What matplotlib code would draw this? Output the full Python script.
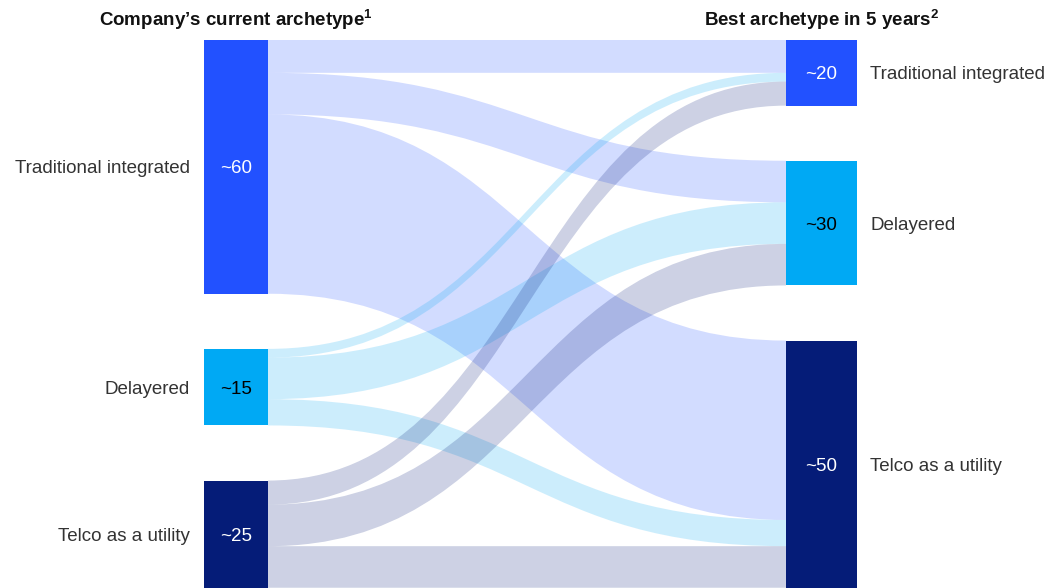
import numpy as np
import matplotlib
matplotlib.use("Agg")
import matplotlib.pyplot as plt
from matplotlib.path import Path
from matplotlib.patches import PathPatch, Rectangle

# archetypes, same order on both sides
archetypes = ["Traditional integrated", "Delayered", "Telco as a utility"]
left_value_labels = ["~60", "~15", "~25"]
right_value_labels = ["~20", "~30", "~50"]
left_title = "Company\u2019s current archetype"
right_title = "Best archetype in 5 years"
left_note, right_note = "1", "2"

# share of companies moving from current archetype (rows) to best archetype (cols)
flows = np.array([
    [7.5, 9.5, 41.0],
    [2.0, 9.5, 6.0],
    [5.5, 9.5, 9.5],
])

node_colors = ["#2251FF", "#00A9F4", "#051C78"]
value_text_colors = ["white", "black", "white"]

plt.rcParams["font.family"] = ["Liberation Sans", "DejaVu Sans"]
plt.rcParams["mathtext.fontset"] = "custom"
plt.rcParams["mathtext.bf"] = "Liberation Sans:bold"
plt.rcParams["mathtext.rm"] = "Liberation Sans"

W, H = 1055, 588
fig = plt.figure(figsize=(W / 100, H / 100), dpi=100)
ax = fig.add_axes([0, 0, 1, 1])
ax.axis("off")

gap = 12.6          # space between nodes, in value units
px = 4.375          # pixels per value unit
top_pad = 40 / px
ax.set_xlim(0, W)
ax.set_ylim((H - 40) / px, -top_pad)

lx0, lx1 = 204, 268   # left nodes
rx0, rx1 = 786, 857   # right nodes

left_tot = flows.sum(axis=1)
right_tot = flows.sum(axis=0)
left_y = np.concatenate([[0], np.cumsum(left_tot + gap)[:-1]])
right_y = np.concatenate([[0], np.cumsum(right_tot + gap)[:-1]])

# flows first so nodes sit on top
left_off = left_y.copy()
right_off = right_y.copy()
mid = (lx1 + rx0) / 2
for i in range(3):
    for j in range(3):
        v = flows[i, j]
        ya0, ya1 = left_off[i], right_off[j]
        yb0, yb1 = ya0 + v, ya1 + v
        verts = [
            (lx1, ya0), (mid, ya0), (mid, ya1), (rx0, ya1),
            (rx0, yb1),
            (mid, yb1), (mid, yb0), (lx1, yb0),
            (lx1, ya0),
        ]
        codes = [Path.MOVETO, Path.CURVE4, Path.CURVE4, Path.CURVE4,
                 Path.LINETO,
                 Path.CURVE4, Path.CURVE4, Path.CURVE4,
                 Path.CLOSEPOLY]
        ax.add_patch(PathPatch(Path(verts, codes), facecolor=node_colors[i],
                               alpha=0.2, edgecolor="none", lw=0))
        left_off[i] += v
        right_off[j] += v

for k in range(3):
    ax.add_patch(Rectangle((lx0, left_y[k]), lx1 - lx0, left_tot[k],
                           facecolor=node_colors[k], edgecolor="none"))
    ax.add_patch(Rectangle((rx0, right_y[k]), rx1 - rx0, right_tot[k],
                           facecolor=node_colors[k], edgecolor="none"))
    lc = left_y[k] + left_tot[k] / 2
    rc = right_y[k] + right_tot[k] / 2
    ax.text((lx0 + lx1) / 2, lc, left_value_labels[k], ha="center",
            va="center_baseline", fontsize=13.5, color=value_text_colors[k])
    ax.text((rx0 + rx1) / 2, rc, right_value_labels[k], ha="center",
            va="center_baseline", fontsize=13.5, color=value_text_colors[k])
    ax.text(190, lc, archetypes[k], ha="right", va="center_baseline",
            fontsize=13.5, color="#333333")
    ax.text(870, rc, archetypes[k], ha="left", va="center_baseline",
            fontsize=13.5, color="#333333")

title_y = -top_pad + 17 / px
for x, title, note in [((lx0 + lx1) / 2, left_title, left_note),
                       ((rx0 + rx1) / 2, right_title, right_note)]:
    ax.text(x, title_y, title + r"$\mathbf{^{" + note + "}}$", ha="center",
            va="center_baseline", fontsize=13.5, fontweight="bold",
            color="#111111")

fig.savefig("out.png", dpi=100)
